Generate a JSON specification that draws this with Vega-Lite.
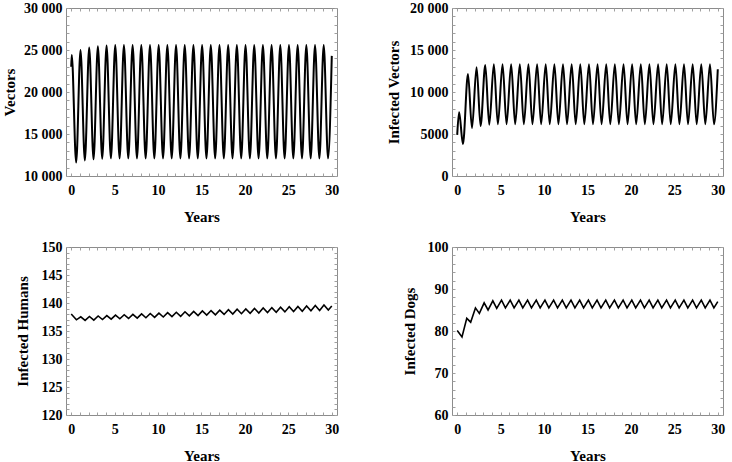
{
  "$schema": "https://vega.github.io/schema/vega-lite/v6.json",
  "background": "white",
  "padding": {"left": 1, "top": 0, "right": 0, "bottom": 0},
  "datasets": {
    "vectors": [
      {"t": 0, "v": 23000}, {"t": 0.06, "v": 24400}, {"t": 0.57, "v": 11600},
      {"t": 1.07, "v": 25000}, {"t": 1.57, "v": 11850},
      {"t": 2.07, "v": 25300}, {"t": 2.57, "v": 11980},
      {"t": 3.07, "v": 25450}, {"t": 3.57, "v": 12050},
      {"t": 4.07, "v": 25550}, {"t": 4.57, "v": 12100},
      {"t": 5.07, "v": 25600}, {"t": 5.57, "v": 12100},
      {"t": 6.07, "v": 25600}, {"t": 6.57, "v": 12100},
      {"t": 7.07, "v": 25600}, {"t": 7.57, "v": 12100},
      {"t": 8.07, "v": 25600}, {"t": 8.57, "v": 12100},
      {"t": 9.07, "v": 25600}, {"t": 9.57, "v": 12100},
      {"t": 10.07, "v": 25600}, {"t": 10.57, "v": 12100},
      {"t": 11.07, "v": 25600}, {"t": 11.57, "v": 12100},
      {"t": 12.07, "v": 25600}, {"t": 12.57, "v": 12100},
      {"t": 13.07, "v": 25600}, {"t": 13.57, "v": 12100},
      {"t": 14.07, "v": 25600}, {"t": 14.57, "v": 12100},
      {"t": 15.07, "v": 25600}, {"t": 15.57, "v": 12100},
      {"t": 16.07, "v": 25600}, {"t": 16.57, "v": 12100},
      {"t": 17.07, "v": 25600}, {"t": 17.57, "v": 12100},
      {"t": 18.07, "v": 25600}, {"t": 18.57, "v": 12100},
      {"t": 19.07, "v": 25600}, {"t": 19.57, "v": 12100},
      {"t": 20.07, "v": 25600}, {"t": 20.57, "v": 12100},
      {"t": 21.07, "v": 25600}, {"t": 21.57, "v": 12100},
      {"t": 22.07, "v": 25600}, {"t": 22.57, "v": 12100},
      {"t": 23.07, "v": 25600}, {"t": 23.57, "v": 12100},
      {"t": 24.07, "v": 25600}, {"t": 24.57, "v": 12100},
      {"t": 25.07, "v": 25600}, {"t": 25.57, "v": 12100},
      {"t": 26.07, "v": 25600}, {"t": 26.57, "v": 12100},
      {"t": 27.07, "v": 25600}, {"t": 27.57, "v": 12100},
      {"t": 28.07, "v": 25600}, {"t": 28.57, "v": 12100},
      {"t": 29.07, "v": 25600}, {"t": 29.57, "v": 12100},
      {"t": 30, "v": 24300}
    ],
    "ivectors": [
      {"t": 0, "v": 4900}, {"t": 0.22, "v": 7600}, {"t": 0.66, "v": 3800},
      {"t": 1.24, "v": 12150}, {"t": 1.7, "v": 5700},
      {"t": 2.23, "v": 12950}, {"t": 2.69, "v": 5950},
      {"t": 3.23, "v": 13200}, {"t": 3.69, "v": 6100},
      {"t": 4.22, "v": 13300}, {"t": 4.68, "v": 6150},
      {"t": 5.22, "v": 13300}, {"t": 5.68, "v": 6150},
      {"t": 6.21, "v": 13300}, {"t": 6.67, "v": 6150},
      {"t": 7.21, "v": 13300}, {"t": 7.67, "v": 6150},
      {"t": 8.2, "v": 13300}, {"t": 8.66, "v": 6150},
      {"t": 9.2, "v": 13300}, {"t": 9.66, "v": 6150},
      {"t": 10.19, "v": 13300}, {"t": 10.65, "v": 6150},
      {"t": 11.19, "v": 13300}, {"t": 11.65, "v": 6150},
      {"t": 12.18, "v": 13300}, {"t": 12.64, "v": 6150},
      {"t": 13.18, "v": 13300}, {"t": 13.64, "v": 6150},
      {"t": 14.17, "v": 13300}, {"t": 14.63, "v": 6150},
      {"t": 15.17, "v": 13300}, {"t": 15.63, "v": 6150},
      {"t": 16.16, "v": 13300}, {"t": 16.62, "v": 6150},
      {"t": 17.16, "v": 13300}, {"t": 17.62, "v": 6150},
      {"t": 18.15, "v": 13300}, {"t": 18.61, "v": 6150},
      {"t": 19.15, "v": 13300}, {"t": 19.61, "v": 6150},
      {"t": 20.14, "v": 13300}, {"t": 20.6, "v": 6150},
      {"t": 21.14, "v": 13300}, {"t": 21.6, "v": 6150},
      {"t": 22.13, "v": 13300}, {"t": 22.59, "v": 6150},
      {"t": 23.13, "v": 13300}, {"t": 23.59, "v": 6150},
      {"t": 24.12, "v": 13300}, {"t": 24.58, "v": 6150},
      {"t": 25.12, "v": 13300}, {"t": 25.58, "v": 6150},
      {"t": 26.11, "v": 13300}, {"t": 26.57, "v": 6150},
      {"t": 27.11, "v": 13300}, {"t": 27.57, "v": 6150},
      {"t": 28.1, "v": 13300}, {"t": 28.56, "v": 6150},
      {"t": 29.1, "v": 13300}, {"t": 29.56, "v": 6150},
      {"t": 30, "v": 12700}
    ],
    "humans": [
      {"t": 0, "v": 138.05}, {"t": 0.6, "v": 137.0},
      {"t": 1.1, "v": 137.53}, {"t": 1.6, "v": 136.9},
      {"t": 2.1, "v": 137.6}, {"t": 2.6, "v": 136.95},
      {"t": 3.1, "v": 137.68}, {"t": 3.6, "v": 137.05},
      {"t": 4.1, "v": 137.75}, {"t": 4.6, "v": 137.11},
      {"t": 5.1, "v": 137.83}, {"t": 5.6, "v": 137.18},
      {"t": 6.1, "v": 137.9}, {"t": 6.6, "v": 137.24},
      {"t": 7.1, "v": 137.98}, {"t": 7.6, "v": 137.31},
      {"t": 8.1, "v": 138.05}, {"t": 8.6, "v": 137.37},
      {"t": 9.1, "v": 138.13}, {"t": 9.6, "v": 137.44},
      {"t": 10.1, "v": 138.2}, {"t": 10.6, "v": 137.5},
      {"t": 11.1, "v": 138.28}, {"t": 11.6, "v": 137.57},
      {"t": 12.1, "v": 138.35}, {"t": 12.6, "v": 137.63},
      {"t": 13.1, "v": 138.43}, {"t": 13.6, "v": 137.7},
      {"t": 14.1, "v": 138.5}, {"t": 14.6, "v": 137.76},
      {"t": 15.1, "v": 138.58}, {"t": 15.6, "v": 137.83},
      {"t": 16.1, "v": 138.65}, {"t": 16.6, "v": 137.89},
      {"t": 17.1, "v": 138.73}, {"t": 17.6, "v": 137.96},
      {"t": 18.1, "v": 138.8}, {"t": 18.6, "v": 138.02},
      {"t": 19.1, "v": 138.88}, {"t": 19.6, "v": 138.09},
      {"t": 20.1, "v": 138.95}, {"t": 20.6, "v": 138.15},
      {"t": 21.1, "v": 139.03}, {"t": 21.6, "v": 138.22},
      {"t": 22.1, "v": 139.1}, {"t": 22.6, "v": 138.28},
      {"t": 23.1, "v": 139.18}, {"t": 23.6, "v": 138.35},
      {"t": 24.1, "v": 139.25}, {"t": 24.6, "v": 138.41},
      {"t": 25.1, "v": 139.33}, {"t": 25.6, "v": 138.48},
      {"t": 26.1, "v": 139.4}, {"t": 26.6, "v": 138.54},
      {"t": 27.1, "v": 139.48}, {"t": 27.6, "v": 138.61},
      {"t": 28.1, "v": 139.55}, {"t": 28.6, "v": 138.67},
      {"t": 29.1, "v": 139.63}, {"t": 29.6, "v": 138.74},
      {"t": 30, "v": 139.45}
    ],
    "dogs": [
      {"t": 0, "v": 80.1}, {"t": 0.55, "v": 78.6},
      {"t": 1.1, "v": 83.0}, {"t": 1.55, "v": 82.1},
      {"t": 2.1, "v": 85.5}, {"t": 2.55, "v": 84.2},
      {"t": 3.1, "v": 86.7}, {"t": 3.55, "v": 85.0},
      {"t": 4.1, "v": 87.2}, {"t": 4.55, "v": 85.4},
      {"t": 5.1, "v": 87.35}, {"t": 5.55, "v": 85.5},
      {"t": 6.1, "v": 87.35}, {"t": 6.55, "v": 85.5},
      {"t": 7.1, "v": 87.35}, {"t": 7.55, "v": 85.5},
      {"t": 8.1, "v": 87.35}, {"t": 8.55, "v": 85.5},
      {"t": 9.1, "v": 87.35}, {"t": 9.55, "v": 85.5},
      {"t": 10.1, "v": 87.35}, {"t": 10.55, "v": 85.5},
      {"t": 11.1, "v": 87.35}, {"t": 11.55, "v": 85.5},
      {"t": 12.1, "v": 87.35}, {"t": 12.55, "v": 85.5},
      {"t": 13.1, "v": 87.35}, {"t": 13.55, "v": 85.5},
      {"t": 14.1, "v": 87.35}, {"t": 14.55, "v": 85.5},
      {"t": 15.1, "v": 87.35}, {"t": 15.55, "v": 85.5},
      {"t": 16.1, "v": 87.35}, {"t": 16.55, "v": 85.5},
      {"t": 17.1, "v": 87.35}, {"t": 17.55, "v": 85.5},
      {"t": 18.1, "v": 87.35}, {"t": 18.55, "v": 85.5},
      {"t": 19.1, "v": 87.35}, {"t": 19.55, "v": 85.5},
      {"t": 20.1, "v": 87.35}, {"t": 20.55, "v": 85.5},
      {"t": 21.1, "v": 87.35}, {"t": 21.55, "v": 85.5},
      {"t": 22.1, "v": 87.35}, {"t": 22.55, "v": 85.5},
      {"t": 23.1, "v": 87.35}, {"t": 23.55, "v": 85.5},
      {"t": 24.1, "v": 87.35}, {"t": 24.55, "v": 85.5},
      {"t": 25.1, "v": 87.35}, {"t": 25.55, "v": 85.5},
      {"t": 26.1, "v": 87.35}, {"t": 26.55, "v": 85.5},
      {"t": 27.1, "v": 87.35}, {"t": 27.55, "v": 85.5},
      {"t": 28.1, "v": 87.35}, {"t": 28.55, "v": 85.5},
      {"t": 29.1, "v": 87.35}, {"t": 29.55, "v": 85.5},
      {"t": 30, "v": 87.0}
    ]
  },
  "columns": 2,
  "bounds": "flush",
  "spacing": {"row": 71, "column": 115},
  "concat": [
    {
      "width": 271, "height": 168,
      "data": {"name": "vectors"},
      "layer": [
        {
          "mark": {"type": "line", "color": "black", "strokeWidth": 2, "interpolate": "monotone"},
          "encoding": {
            "x": {"field": "t", "type": "quantitative", "scale": {"domain": [-0.6, 30.6], "nice": false, "zero": false}, "axis": {"title": "Years", "values": [0,1,2,3,4,5,6,7,8,9,10,11,12,13,14,15,16,17,18,19,20,21,22,23,24,25,26,27,28,29,30], "labelExpr": "datum.value % 5 == 0 ? datum.label : ''"}},
            "y": {"field": "v", "type": "quantitative", "scale": {"domain": [10000, 30000], "nice": false, "zero": false}, "axis": {"title": "Vectors", "titleX": -57, "values": [10000,11000,12000,13000,14000,15000,16000,17000,18000,19000,20000,21000,22000,23000,24000,25000,26000,27000,28000,29000,30000], "labelExpr": "datum.value % 5000 == 0 ? replace(format(datum.value, ','), ',', ' ') : ''"}}
          }
        },
        {
          "mark": {"type": "line", "opacity": 0},
          "encoding": {
            "x": {"field": "t", "type": "quantitative", "scale": {"domain": [-0.6, 30.6], "nice": false, "zero": false}, "axis": {"orient": "top", "title": null, "labels": false, "values": [0,1,2,3,4,5,6,7,8,9,10,11,12,13,14,15,16,17,18,19,20,21,22,23,24,25,26,27,28,29,30]}},
            "y": {"field": "v", "type": "quantitative", "scale": {"domain": [10000, 30000], "nice": false, "zero": false}, "axis": {"orient": "right", "title": null, "labels": false, "values": [10000,11000,12000,13000,14000,15000,16000,17000,18000,19000,20000,21000,22000,23000,24000,25000,26000,27000,28000,29000,30000]}}
          }
        }
      ],
      "resolve": {"axis": {"x": "independent", "y": "independent"}}
    },
    {
      "width": 271, "height": 168,
      "data": {"name": "ivectors"},
      "layer": [
        {
          "mark": {"type": "line", "color": "black", "strokeWidth": 2, "interpolate": "monotone"},
          "encoding": {
            "x": {"field": "t", "type": "quantitative", "scale": {"domain": [-0.6, 30.6], "nice": false, "zero": false}, "axis": {"title": "Years", "values": [0,1,2,3,4,5,6,7,8,9,10,11,12,13,14,15,16,17,18,19,20,21,22,23,24,25,26,27,28,29,30], "labelExpr": "datum.value % 5 == 0 ? datum.label : ''"}},
            "y": {"field": "v", "type": "quantitative", "scale": {"domain": [0, 20000], "nice": false, "zero": false}, "axis": {"title": "Infected Vectors", "titleX": -59, "values": [0,1000,2000,3000,4000,5000,6000,7000,8000,9000,10000,11000,12000,13000,14000,15000,16000,17000,18000,19000,20000], "labelExpr": "datum.value % 5000 == 0 ? (datum.value >= 10000 ? replace(format(datum.value, ','), ',', ' ') : format(datum.value, 'd')) : ''"}}
          }
        },
        {
          "mark": {"type": "line", "opacity": 0},
          "encoding": {
            "x": {"field": "t", "type": "quantitative", "scale": {"domain": [-0.6, 30.6], "nice": false, "zero": false}, "axis": {"orient": "top", "title": null, "labels": false, "values": [0,1,2,3,4,5,6,7,8,9,10,11,12,13,14,15,16,17,18,19,20,21,22,23,24,25,26,27,28,29,30]}},
            "y": {"field": "v", "type": "quantitative", "scale": {"domain": [0, 20000], "nice": false, "zero": false}, "axis": {"orient": "right", "title": null, "labels": false, "values": [0,1000,2000,3000,4000,5000,6000,7000,8000,9000,10000,11000,12000,13000,14000,15000,16000,17000,18000,19000,20000]}}
          }
        }
      ],
      "resolve": {"axis": {"x": "independent", "y": "independent"}}
    },
    {
      "width": 271, "height": 168,
      "data": {"name": "humans"},
      "layer": [
        {
          "mark": {"type": "line", "color": "black", "strokeWidth": 1.6, "interpolate": "linear"},
          "encoding": {
            "x": {"field": "t", "type": "quantitative", "scale": {"domain": [-0.6, 30.6], "nice": false, "zero": false}, "axis": {"title": "Years", "values": [0,1,2,3,4,5,6,7,8,9,10,11,12,13,14,15,16,17,18,19,20,21,22,23,24,25,26,27,28,29,30], "labelExpr": "datum.value % 5 == 0 ? datum.label : ''"}},
            "y": {"field": "v", "type": "quantitative", "scale": {"domain": [120, 150], "nice": false, "zero": false}, "axis": {"title": "Infected Humans", "titleX": -44, "values": [120,121,122,123,124,125,126,127,128,129,130,131,132,133,134,135,136,137,138,139,140,141,142,143,144,145,146,147,148,149,150], "labelExpr": "datum.value % 5 == 0 ? datum.label : ''"}}
          }
        },
        {
          "mark": {"type": "line", "opacity": 0},
          "encoding": {
            "x": {"field": "t", "type": "quantitative", "scale": {"domain": [-0.6, 30.6], "nice": false, "zero": false}, "axis": {"orient": "top", "title": null, "labels": false, "values": [0,1,2,3,4,5,6,7,8,9,10,11,12,13,14,15,16,17,18,19,20,21,22,23,24,25,26,27,28,29,30]}},
            "y": {"field": "v", "type": "quantitative", "scale": {"domain": [120, 150], "nice": false, "zero": false}, "axis": {"orient": "right", "title": null, "labels": false, "values": [120,121,122,123,124,125,126,127,128,129,130,131,132,133,134,135,136,137,138,139,140,141,142,143,144,145,146,147,148,149,150]}}
          }
        }
      ],
      "resolve": {"axis": {"x": "independent", "y": "independent"}}
    },
    {
      "width": 271, "height": 168,
      "data": {"name": "dogs"},
      "layer": [
        {
          "mark": {"type": "line", "color": "black", "strokeWidth": 1.6, "interpolate": "linear"},
          "encoding": {
            "x": {"field": "t", "type": "quantitative", "scale": {"domain": [-0.6, 30.6], "nice": false, "zero": false}, "axis": {"title": "Years", "values": [0,1,2,3,4,5,6,7,8,9,10,11,12,13,14,15,16,17,18,19,20,21,22,23,24,25,26,27,28,29,30], "labelExpr": "datum.value % 5 == 0 ? datum.label : ''"}},
            "y": {"field": "v", "type": "quantitative", "scale": {"domain": [60, 100], "nice": false, "zero": false}, "axis": {"title": "Infected Dogs", "titleX": -43, "values": [60,62,64,66,68,70,72,74,76,78,80,82,84,86,88,90,92,94,96,98,100], "labelExpr": "datum.value % 10 == 0 ? datum.label : ''"}}
          }
        },
        {
          "mark": {"type": "line", "opacity": 0},
          "encoding": {
            "x": {"field": "t", "type": "quantitative", "scale": {"domain": [-0.6, 30.6], "nice": false, "zero": false}, "axis": {"orient": "top", "title": null, "labels": false, "values": [0,1,2,3,4,5,6,7,8,9,10,11,12,13,14,15,16,17,18,19,20,21,22,23,24,25,26,27,28,29,30]}},
            "y": {"field": "v", "type": "quantitative", "scale": {"domain": [60, 100], "nice": false, "zero": false}, "axis": {"orient": "right", "title": null, "labels": false, "values": [60,62,64,66,68,70,72,74,76,78,80,82,84,86,88,90,92,94,96,98,100]}}
          }
        }
      ],
      "resolve": {"axis": {"x": "independent", "y": "independent"}}
    }
  ],
  "config": {
    "view": {"stroke": "#8c8c8c", "strokeWidth": 1},
    "axis": {
      "grid": false,
      "domain": false,
      "ticks": true,
      "tickColor": "#a0a0a0",
      "tickSize": -3,
      "tickWidth": 1,
      "labelOverlap": false,
      "labelFont": "Liberation Serif",
      "labelFontWeight": "bold",
      "labelFontSize": 14,
      "labelColor": "black",
      "titleFont": "Liberation Serif",
      "titleFontWeight": "bold",
      "titleFontSize": 15,
      "titleColor": "black"
    },
    "axisLeft": {"labelPadding": 7, "titleBaseline": "middle"},
    "axisBottom": {"labelPadding": 10, "titleY": 40, "titleBaseline": "middle"}
  }
}
